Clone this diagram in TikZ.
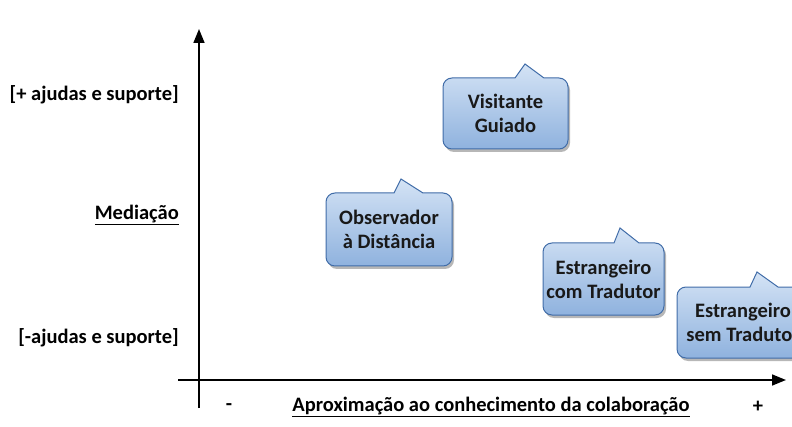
\documentclass[tikz,border=0pt]{standalone}
\usepackage{fontspec}
\setmainfont{Carlito}
\usetikzlibrary{arrows.meta,shadows}
\definecolor{ctop}{RGB}{212,227,245}
\definecolor{cbot}{RGB}{143,178,222}
\definecolor{cborder}{RGB}{64,108,168}
\tikzset{
  callshape/.style={draw=cborder, line width=1pt, top color=ctop, bottom color=cbot,
    drop shadow={shadow xshift=2pt, shadow yshift=-3pt, opacity=0.4, fill=black!70}},
  calltext/.style={font=\bfseries\fontsize{20.5}{24}\selectfont, align=center, text=black!90, inner sep=0pt},
  axislabel/.style={font=\bfseries\fontsize{20.5}{24}\selectfont, inner sep=0pt},
  axisline/.style={line width=1.6pt, -{Triangle[length=14pt,width=11pt]}}
}
% #1 L, #2 R, #3 B, #4 T, #5 base left, #6 base right, #7 tip x, #8 tip y
\newcommand{\callpath}[8]{%
  \path[callshape] (#1,#4-9) arc(180:90:9) -- (#5,#4) -- (#7,#8) -- (#6,#4) -- (#2-9,#4) arc(90:0:9)
    -- (#2,#3+9) arc(0:-90:9) -- (#1+9,#3) arc(270:180:9) -- cycle;}
\begin{document}
\begin{tikzpicture}[x=1pt,y=1pt]
\useasboundingbox (0,0) rectangle (792,426);
\clip (0,0) rectangle (792,426);
% axes
\coordinate (vbot) at (199,18);
\coordinate (vtop) at (199,397);
\coordinate (hleft) at (178,46);
\coordinate (hright) at (786,46);
\draw[axisline] (vbot) -- (vtop);
\draw[axisline] (hleft) -- (hright);
% axis labels
\node[axislabel, anchor=east] (plus) at (179,331) {[+ ajudas e suporte]};
\node[axislabel, anchor=east] (med) at (179,211) {\underline{Mediação}};
\node[axislabel, anchor=east] (minus) at (179,88) {[-ajudas e suporte]};
\node[axislabel] (xminus) at (229,19) {-};
\node[axislabel] (xlab) at (491,19) {\underline{Aproximação ao conhecimento da colaboração}};
\node[axislabel] (xplus) at (758,19) {+};
% callouts
\callpath{443}{568}{277}{348}{515}{544}{525}{362}
\node[calltext] (vg) at (505.5,312.5) {Visitante\\Guiado};
\callpath{326}{452}{160}{233}{394}{423}{401}{247}
\node[calltext] (od) at (389,196.5) {Observador\\à Distância};
\callpath{543}{664}{111}{183}{614}{639}{620}{198}
\node[calltext] (ect) at (603.5,147) {Estrangeiro\\com Tradutor};
\callpath{677}{803}{68}{139}{750}{778}{757}{154}
\node[calltext] (est) at (743,103.5) {Estrangeiro\\sem Tradutor};
\end{tikzpicture}
\end{document}
